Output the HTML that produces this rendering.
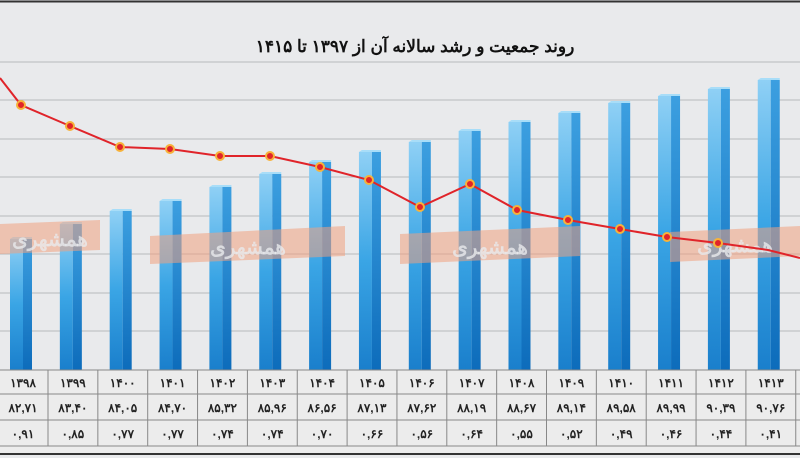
<!DOCTYPE html>
<html><head><meta charset="utf-8"><style>
html,body{margin:0;padding:0;background:#e9eaec;}
svg{display:block;}
text{font-family:"Liberation Sans","Noto Sans CJK SC",sans-serif;}
</style></head><body>
<svg width="800" height="458" viewBox="0 0 800 458" xmlns="http://www.w3.org/2000/svg">
<defs>
<linearGradient id="front" x1="0" y1="0" x2="0" y2="1">
<stop offset="0" stop-color="#8fd0f5"/><stop offset="0.5" stop-color="#3aa5e5"/><stop offset="1" stop-color="#1a7fcc"/>
</linearGradient>
<linearGradient id="side" x1="0" y1="0" x2="0" y2="1">
<stop offset="0" stop-color="#3c9fe0"/><stop offset="1" stop-color="#0d6cbb"/>
</linearGradient>
</defs>
<rect width="800" height="458" fill="#e9eaec"/>
<line x1="0" y1="1.5" x2="800" y2="1.5" stroke="#333" stroke-width="2"/>
<text x="415" y="52" text-anchor="middle" font-size="17" font-weight="bold" fill="#111" direction="rtl">روند جمعیت و رشد سالانه آن از ۱۳۹۷ تا ۱۴۱۵</text>
<g stroke="#b8b9bb" stroke-width="1">
<line x1="0" y1="62" x2="800" y2="62"/><line x1="0" y1="100" x2="800" y2="100"/>
<line x1="0" y1="139" x2="800" y2="139"/><line x1="0" y1="177" x2="800" y2="177"/>
<line x1="0" y1="216" x2="800" y2="216"/><line x1="0" y1="254" x2="800" y2="254"/>
<line x1="0" y1="293" x2="800" y2="293"/><line x1="0" y1="331" x2="800" y2="331"/>
</g>
<g id="bars"></g>
<g id="wm" fill="#f0a080" fill-opacity="0.55">
<polygon points="0,224 100,220 100,250 0,254"/>
<polygon points="150,236 345,226 345,256 150,264"/>
<polygon points="400,234 580,226 580,256 400,264"/>
<polygon points="670,232 800,226 800,256 670,262"/>
</g>
<g font-size="20" font-weight="bold" fill="#e9eaec" fill-opacity="0.8" text-anchor="middle">
<text x="50" y="246">همشهری</text><text x="248" y="254">همشهری</text>
<text x="490" y="254">همشهری</text><text x="735" y="252">همشهری</text>
</g>
<polyline fill="none" stroke="#e0242a" stroke-width="2" points="0,78 21,105 70,126 120,147 170,149 220,156 270,156 320,167 369,180 420,207 470,184 517,210 568,220 620,229 667,237 718,243 768,250 800,258"/>
<g id="dots" fill="#e0242a" stroke="#f7b23a" stroke-width="2"></g>
<rect x="0" y="370" width="800" height="84" fill="#ececec"/>
<g stroke="#888" stroke-width="1">
<line x1="0" y1="370" x2="800" y2="370"/><line x1="0" y1="394" x2="800" y2="394"/>
<line x1="0" y1="420" x2="800" y2="420"/><line x1="0" y1="446" x2="800" y2="446"/>
</g>
<line x1="0" y1="454" x2="800" y2="454" stroke="#333" stroke-width="2"/>
<g id="tbl" stroke="#888" stroke-width="1"></g>
<g id="txt" font-size="12" font-weight="bold" fill="#222" text-anchor="middle"></g>
</svg>
<script>
var ns="http://www.w3.org/2000/svg";
var tops=[239,224,211,201,187,174,162,152,142,131,122,113,103,96,89,80];
var yrs=["۱۳۹۸","۱۳۹۹","۱۴۰۰","۱۴۰۱","۱۴۰۲","۱۴۰۳","۱۴۰۴","۱۴۰۵","۱۴۰۶","۱۴۰۷","۱۴۰۸","۱۴۰۹","۱۴۱۰","۱۴۱۱","۱۴۱۲","۱۴۱۳"];
var pop=["۸۲,۷۱","۸۳,۴۰","۸۴,۰۵","۸۴,۷۰","۸۵,۳۲","۸۵,۹۶","۸۶,۵۶","۸۷,۱۳","۸۷,۶۲","۸۸,۱۹","۸۸,۶۷","۸۹,۱۴","۸۹,۵۸","۸۹,۹۹","۹۰,۳۹","۹۰,۷۶"];
var gr=["۰,۹۱","۰,۸۵","۰,۷۷","۰,۷۷","۰,۷۴","۰,۷۴","۰,۷۰","۰,۶۶","۰,۵۶","۰,۶۴","۰,۵۵","۰,۵۲","۰,۴۹","۰,۴۶","۰,۴۴","۰,۴۱"];
var dots=[[21,105],[70,126],[120,147],[170,149],[220,156],[270,156],[320,167],[369,180],[420,207],[470,184],[517,210],[568,220],[620,229],[667,237],[718,243]];
function el(t,a,p){var e=document.createElementNS(ns,t);for(var k in a)e.setAttribute(k,a[k]);document.getElementById(p).appendChild(e);return e;}
for(var i=0;i<16;i++){
 var c=21+49.85*i, t=tops[i];
 el("rect",{x:c-11,y:t,width:13,height:370-t,fill:"url(#front)"},"bars");
 el("rect",{x:c+2,y:t,width:9,height:370-t,fill:"url(#side)"},"bars");
 el("polygon",{points:(c-11)+","+t+" "+(c-8)+","+(t-2)+" "+(c+11)+","+(t-2)+" "+(c+11)+","+t,fill:"#a8ddf8"},"bars");
 var cc=23+49.85*i;
 [[yrs,387],[pop,412],[gr,438]].forEach(function(r){var tx=el("text",{x:cc,y:r[1]},"txt");tx.textContent=r[0][i];});
}
for(var k=0;k<=16;k++){var x=48+49.85*k;el("line",{x1:x,y1:370,x2:x,y2:446},"tbl");}
dots.forEach(function(d){el("circle",{cx:d[0],cy:d[1],r:4},"dots");});
</script>
</body></html>
